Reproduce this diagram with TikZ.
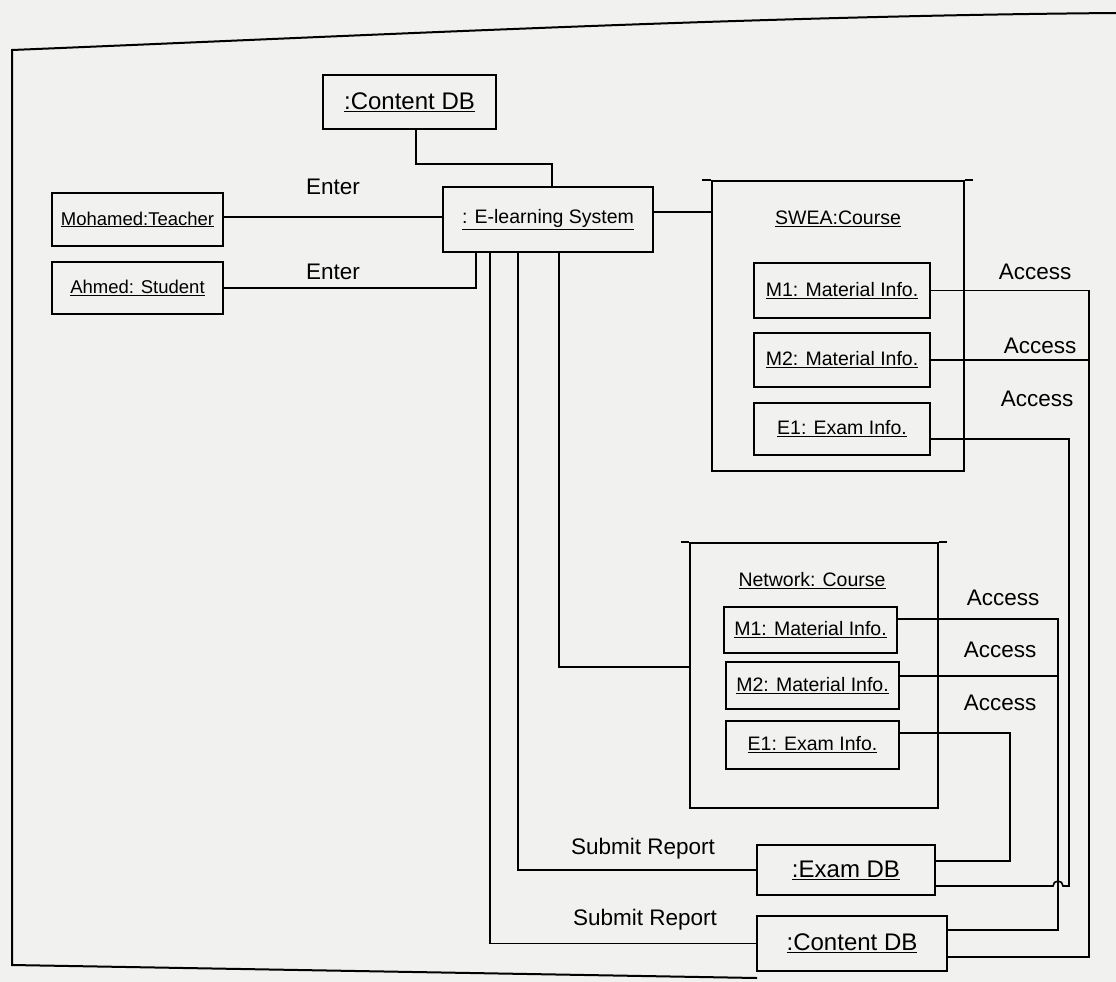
\documentclass[tikz,border=0pt]{standalone}
\usepackage{fontspec}
\setmainfont{Liberation Sans}
\definecolor{paper}{RGB}{241,241,239}
\begin{document}
\begin{tikzpicture}[x=1pt,y=-1pt,
  line width=1.6pt,
  obj/.style={draw, line width=1.7pt, inner sep=0pt, align=center},
  fsmall/.style={font=\fontsize{18.5}{22}\selectfont},
  fmid/.style={font=\fontsize{19.5}{23}\selectfont},
  fdb/.style={font=\fontsize{24}{28}\selectfont},
  msg/.style={font=\fontsize{22.5}{26}\selectfont, inner sep=0pt},
]
% paper and page size
\fill[paper] (0,0) rectangle (1116,982);
\useasboundingbox (0,0) rectangle (1116,982);

% outer frame (open on the right)
\draw[line width=2pt] (1116,13) .. controls (750,16) and (380,35) .. (12,50)
  -- (12,965) -- (757,978);

% objects on the left
\node[obj, fdb,   minimum width=173, minimum height=54] (cdbTop)  at (409.5,102)  {\underline{:Content DB}};
\node[obj, fsmall, minimum width=171, minimum height=53] (teacher) at (137.5,219.5) {\underline{Mohamed:Teacher}};
\node[obj, fsmall, minimum width=171, minimum height=52] (student) at (137.5,288)   {\underline{Ahmed: Student}};
\node[obj, fmid,  minimum width=210, minimum height=65] (els)     at (548,219.5)   {\underline{: E-learning System}};

% SWEA course container
\node[obj, minimum width=252, minimum height=290] (swea) at (838,326) {};
\draw[line width=1.7pt] (swea.north west) -- ++(-9,0);
\draw[line width=1.7pt] (swea.north east) -- ++(8,0);
\node[fmid] (sweaLbl) at (838,219) {\underline{SWEA:Course}};
\node[obj, fmid, minimum width=176, minimum height=55] (sm1) at (842,290.5) {\underline{M1: Material Info.}};
\node[obj, fmid, minimum width=176, minimum height=54] (sm2) at (842,360)   {\underline{M2: Material Info.}};
\node[obj, fmid, minimum width=176, minimum height=52] (se1) at (842,429)   {\underline{E1: Exam Info.}};

% Network course container
\node[obj, minimum width=248, minimum height=265] (net) at (814,675.5) {};
\draw[line width=1.7pt] (net.north west) -- ++(-8,0);
\draw[line width=1.7pt] (net.north east) -- ++(8,0);
\node[fmid] (netLbl) at (812,581) {\underline{Network: Course}};
\node[obj, fmid, minimum width=173, minimum height=46] (nm1) at (810.5,630)  {\underline{M1: Material Info.}};
\node[obj, fmid, minimum width=173, minimum height=47] (nm2) at (812.5,685.5) {\underline{M2: Material Info.}};
\node[obj, fmid, minimum width=173, minimum height=48] (ne1) at (812.5,745)  {\underline{E1: Exam Info.}};

% databases at the bottom
\node[obj, fdb, minimum width=178, minimum height=50] (examdb) at (846,870)   {\underline{:Exam DB}};
\node[obj, fdb, minimum width=190, minimum height=55] (cdbBot) at (852,943.5) {\underline{:Content DB}};

% links of the e-learning system
\draw (cdbTop.south -| 416,0) |- (552,164) -- (els.north -| 552,0);
\draw (teacher.east |- 0,217) -- (els.west |- 0,217);
\draw (student.east) -| (els.south -| 476,0);
\draw (els.east |- 0,212) -- (swea.west |- 0,212);
\draw (els.south -| 559,0) |- (net.west |- 0,667);
\draw (els.south -| 518,0) |- (examdb.west);
\draw (els.south -| 490,0) |- (cdbBot.west);

% access links of SWEA:Course
\draw (sm1.east) -| (1089,957) -- (cdbBot.east |- 0,957);
\draw (sm2.east) -- (sm2.east -| 1089,0);
\draw (se1.east |- 0,439) -| (1069,886) -- (1063,886)
  arc[start angle=0, end angle=-180, radius=5] -- (examdb.east |- 0,886);

% access links of Network: Course
\draw (nm1.east |- 0,619) -| (1058,930) -- (cdbBot.east |- 0,930);
\draw (nm2.east |- 0,676) -- (1058,676);
\draw (ne1.east |- 0,733) -| (1010,861) -- (examdb.east |- 0,861);

% message labels
\node[msg] (enter1) at (333,187) {Enter};
\node[msg] (enter2) at (333,272) {Enter};
\node[msg] (acc1) at (1035,272) {Access};
\node[msg] (acc2) at (1040,346) {Access};
\node[msg] (acc3) at (1037,399) {Access};
\node[msg] (acc4) at (1003,598) {Access};
\node[msg] (acc5) at (1000,650) {Access};
\node[msg] (acc6) at (1000,703) {Access};
\node[msg] (sub1) at (643,849) {Submit Report};
\node[msg] (sub2) at (645,920) {Submit Report};
\end{tikzpicture}
\end{document}
